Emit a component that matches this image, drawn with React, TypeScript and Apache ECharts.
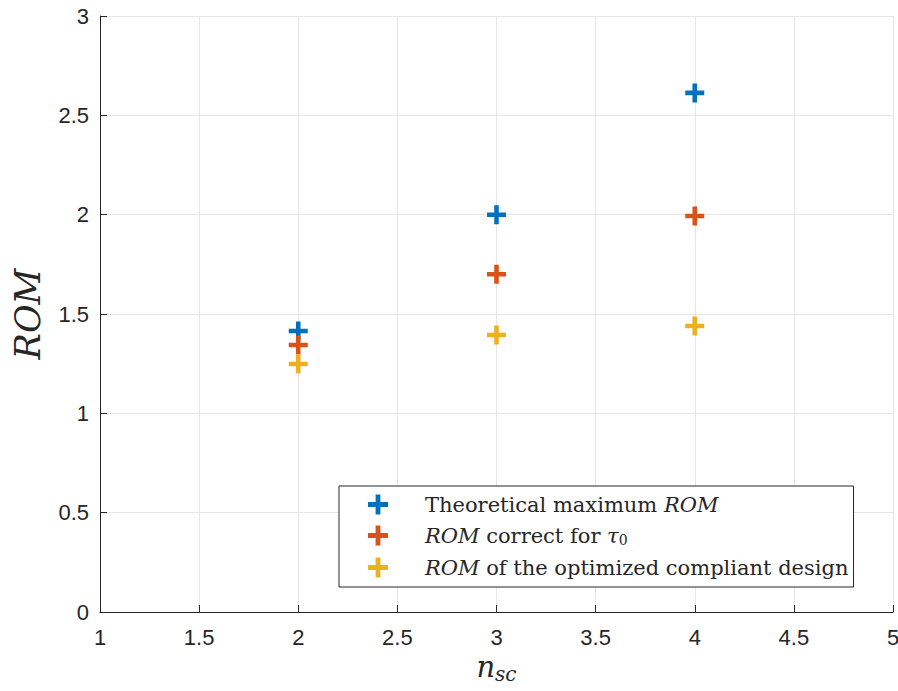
import React, { useEffect, useRef } from "react";
import * as echarts from "echarts";

const nsc = [2, 3, 4];
const theoreticalMax = [1.414, 2.0, 2.613];
const correctForTau = [1.344, 1.70, 1.993];
const optimizedDesign = [1.248, 1.394, 1.44];
const seriesNames = ["Theoretical maximum ROM", "ROM correct for tau0", "ROM of the optimized compliant design"];
const colors = ["#0072BD", "#D95319", "#EDB120"];

const plus = "path://M7.6,0 H12.4 V7.6 H20 V12.4 H12.4 V20 H7.6 V12.4 H0 V7.6 H7.6 Z";

export default function App() {
  const ref = useRef<HTMLDivElement>(null);
  useEffect(() => {
    if (!ref.current) return;
    const chart = echarts.init(ref.current, null, { renderer: "svg" });
    const serif = "'DejaVu Serif', 'Liberation Serif', serif";
    const sans = "'Liberation Sans', Arial, sans-serif";
    const axisColor = "#262626";
    const all = [theoreticalMax, correctForTau, optimizedDesign];
    const legendLabels: Record<string, string> = {
      [seriesNames[0]]: "Theoretical maximum {i|ROM}",
      [seriesNames[1]]: "{i|ROM} correct for {i|τ}{sub|0}",
      [seriesNames[2]]: "{i|ROM} of the optimized compliant design",
    };
    chart.setOption({
      animation: false,
      backgroundColor: "#ffffff",
      grid: { left: 100, right: 5, top: 16, bottom: 79, containLabel: false, outerBoundsMode: "none" },
      xAxis: {
        type: "value",
        min: 1,
        max: 5,
        interval: 0.5,
        name: "{i|n}{sub|sc}",
        nameLocation: "middle",
        nameGap: 22,
        nameTextStyle: {
          rich: {
            i: { fontFamily: serif, fontStyle: "italic", fontSize: 29, color: axisColor },
            sub: { fontFamily: serif, fontStyle: "italic", fontSize: 20, color: axisColor, verticalAlign: "bottom", padding: [14, 0, 0, 0] },
          },
        },
        axisLine: { show: true, onZero: false, lineStyle: { color: axisColor, width: 1 } },
        axisTick: { show: true, inside: true, length: 7, lineStyle: { color: axisColor } },
        axisLabel: { fontFamily: sans, fontSize: 22, color: axisColor, margin: 14, showMaxLabel: true },
        splitLine: { show: true, lineStyle: { color: "#e6e6e6", width: 1 } },
      },
      yAxis: {
        type: "value",
        min: 0,
        max: 3,
        interval: 0.5,
        name: "ROM",
        nameLocation: "middle",
        nameGap: 55,
        nameRotate: 90,
        nameTextStyle: { fontFamily: serif, fontStyle: "italic", fontSize: 35, color: axisColor },
        axisLine: { show: true, onZero: false, lineStyle: { color: axisColor, width: 1 } },
        axisTick: { show: true, inside: true, length: 7, lineStyle: { color: axisColor } },
        axisLabel: { fontFamily: sans, fontSize: 22, color: axisColor, margin: 11 },
        splitLine: { show: true, lineStyle: { color: "#e6e6e6", width: 1 } },
      },
      legend: {
        orient: "vertical",
        left: 339,
        top: 486,
        padding: [8, 5, 9, 29],
        itemGap: 10,
        itemWidth: 20,
        itemHeight: 20,
        icon: plus,
        backgroundColor: "#ffffff",
        borderColor: "#262626",
        borderWidth: 1,
        borderRadius: 0,
        data: seriesNames,
        formatter: (name: string) => legendLabels[name],
        textStyle: {
          fontFamily: serif,
          fontSize: 21,
          color: "#262626",
          padding: [0, 0, 0, 32],
          width: 430,
          rich: {
            i: { fontFamily: serif, fontStyle: "italic", fontSize: 21, color: "#262626" },
            sub: { fontFamily: serif, fontSize: 14, color: "#262626", verticalAlign: "bottom", padding: [9, 0, 0, 0] },
          },
        },
      },
      series: seriesNames.map((name, k) => ({
        name,
        type: "scatter",
        symbol: plus,
        symbolSize: 19,
        itemStyle: { color: colors[k], opacity: 1 },
        data: nsc.map((x, i) => [x, all[k][i]]),
        z: 3 + k,
      })),
    });
    return () => chart.dispose();
  }, []);
  return <div ref={ref} style={{ position: "fixed", left: 0, top: 0, width: 898, height: 691 }} />;
}
